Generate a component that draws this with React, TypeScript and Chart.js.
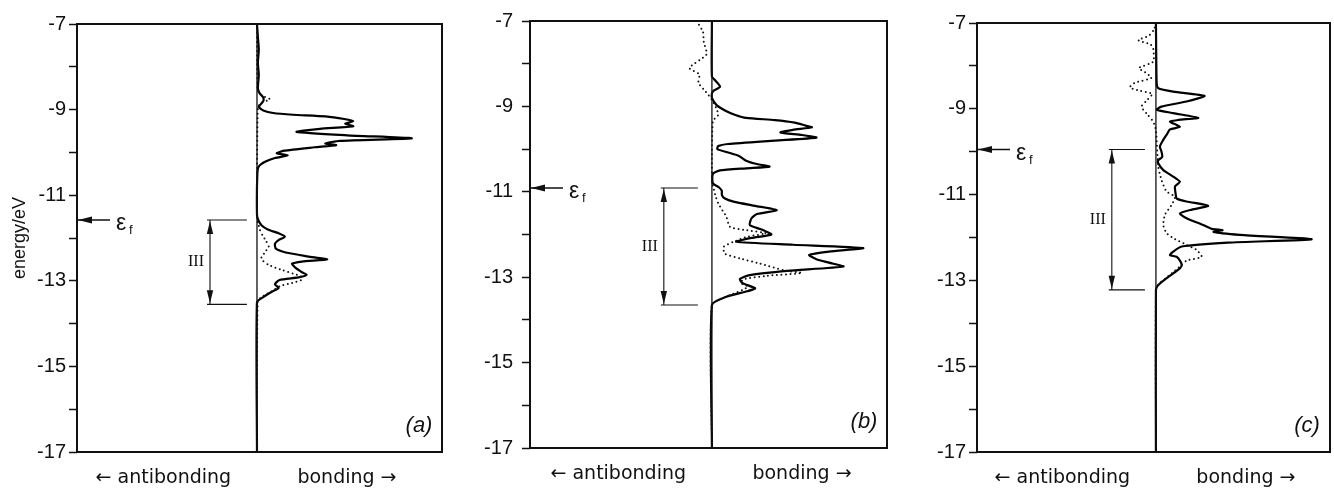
import React, { useEffect, useRef } from 'react';
import { Chart, registerables } from 'chart.js';

Chart.register(...registerables);

// ---------- data ----------
const energyMin = -17;
const energyMax = -7;
const centerLineE = [-7, -17];
const xTickValues = [-5.2, 5];
const xTickLabels = ['← antibonding', 'bonding →'];
const panelLabels = ['(a)', '(b)', '(c)'];
const fermiLevels = [-11.58, -10.91, -9.95];
const bandIIIBottom = [-13.55, -13.65, -13.22];
const bandIIILabel = 'III';

// panel (a)
const aSolidE = [-7.0, -7.3, -7.6, -7.9, -8.2, -8.5, -8.62, -8.72, -8.8, -8.88, -8.94, -9.02, -9.08, -9.12, -9.16, -9.22, -9.27, -9.33, -9.39, -9.45, -9.52, -9.6, -9.67, -9.73, -9.79, -9.83, -9.88, -9.96, -10.02, -10.07, -10.13, -10.22, -10.33, -10.5, -11.45, -11.58, -11.7, -11.8, -11.89, -11.97, -12.05, -12.13, -12.25, -12.34, -12.43, -12.5, -12.55, -12.6, -12.68, -12.8, -12.86, -12.92, -12.98, -13.08, -13.17, -13.25, -13.38, -13.5, -17];
const aSolidX = [0, 0.05, 0.1, 0.05, 0.1, 0.05, 0.15, 0.35, 0.35, 0.2, 0.1, 0.35, 0.9, 2.0, 3.8, 4.85, 5.35, 4.9, 5.35, 3.5, 2.2, 5.0, 8.6, 4.6, 3.8, 4.4, 3.2, 1.5, 1.1, 1.7, 1.0, 0.45, 0.1, 0.02, 0, 0.07, 0.25, 0.6, 1.2, 1.55, 1.2, 1.0, 1.05, 1.6, 2.8, 3.9, 2.5, 1.95, 2.1, 2.5, 2.75, 2.3, 1.25, 1.0, 1.2, 0.85, 0.35, 0, 0];
const aDotE = [-7.0, -8.55, -8.68, -8.76, -8.84, -8.95, -11.55, -11.66, -11.8, -11.93, -12.07, -12.2, -12.33, -12.45, -12.52, -12.63, -12.75, -12.89, -12.97, -13.05, -13.12, -13.25, -13.38, -13.48, -17];
const aDotX = [0, 0.05, 0.3, 0.72, 0.25, 0.05, 0, 0.07, 0.15, 0.3, 0.5, 0.65, 0.45, 0.25, 0.3, 0.65, 1.4, 2.4, 2.5, 1.95, 1.3, 0.8, 0.26, 0.04, 0];

// panel (b)
const bSolidE = [-7.0, -8.3, -8.4, -8.54, -8.63, -8.7, -8.8, -8.97, -9.1, -9.2, -9.27, -9.32, -9.38, -9.45, -9.49, -9.55, -9.61, -9.67, -9.73, -9.8, -9.88, -9.93, -10.0, -10.08, -10.16, -10.27, -10.35, -10.41, -10.45, -10.5, -10.58, -10.8, -10.9, -10.98, -11.07, -11.15, -11.23, -11.33, -11.43, -11.52, -11.62, -11.78, -11.89, -12.0, -12.08, -12.17, -12.24, -12.32, -12.4, -12.48, -12.58, -12.66, -12.75, -12.85, -12.95, -13.04, -13.14, -13.26, -13.33, -13.46, -13.65, -17];
const bSolidX = [0, 0, 0.2, 0.45, 0.1, 0, 0, 0.26, 0.75, 1.3, 1.9, 3.5, 4.6, 5.2, 5.55, 4.5, 3.8, 5.0, 5.8, 3.5, 0.9, 0.35, 0.3, 0.9, 1.5, 1.9, 2.5, 3.2, 1.9, 0.45, 0.05, 0.05, 0.4, 0.55, 0.55, 0.7, 1.2, 2.4, 3.6, 2.5, 2.2, 2.1, 2.8, 3.3, 2.2, 1.35, 4.5, 8.4, 6.5, 5.4, 5.8, 6.5, 7.3, 4.2, 2.1, 1.55, 1.7, 2.4, 1.95, 0.8, 0, 0];
const bDotE = [-7.0, -7.25, -7.5, -7.78, -8.1, -8.25, -8.45, -8.65, -8.85, -9.05, -9.2, -9.35, -10.8, -10.88, -11.1, -11.27, -11.45, -11.58, -11.82, -11.89, -11.97, -12.05, -12.17, -12.29, -12.45, -12.56, -12.68, -12.84, -12.9, -12.97, -13.05, -13.14, -13.22, -13.3, -13.42, -13.65, -17];
const bDotX = [-0.85, -0.5, -0.45, -0.3, -1.25, -0.7, -0.75, -0.35, 0, 0.25, 0.35, 0.05, 0, 0.07, 0.2, 0.35, 0.6, 0.8, 1.0, 1.75, 3.0, 2.0, 1.2, 0.65, 0.72, 1.55, 2.65, 4.0, 5.0, 3.0, 1.75, 1.6, 2.0, 1.7, 1.0, 0, 0];

// panel (c)
const cSolidE = [-7.0, -8.4, -8.52, -8.6, -8.7, -8.83, -8.95, -9.02, -9.1, -9.21, -9.26, -9.3, -9.42, -9.48, -9.6, -9.73, -9.88, -10.0, -10.12, -10.2, -10.27, -10.43, -10.58, -10.7, -10.81, -11.0, -11.09, -11.16, -11.26, -11.35, -11.44, -11.55, -11.71, -11.8, -11.83, -11.87, -11.94, -12.04, -12.12, -12.21, -12.33, -12.41, -12.45, -12.55, -12.64, -12.72, -12.92, -13.11, -13.23, -17];
const cSolidX = [0, 0.04, 0.13, 0.96, 2.7, 1.7, 0.3, 0.05, 0.96, 2.35, 1.24, 0.78, 1.33, 0.78, 0.6, 0.4, 0.22, 0.31, 0.35, 0.13, 0.13, 0.41, 0.96, 1.33, 1.06, 1.1, 1.15, 1.7, 2.9, 2.0, 1.33, 1.7, 2.63, 3.1, 3.7, 3.2, 4.67, 8.65, 4.0, 1.43, 0.96, 0.78, 1.15, 1.35, 1.43, 1.33, 0.69, 0.13, 0, 0];
const cDotE = [-7.0, -7.15, -7.3, -7.4, -7.5, -7.6, -7.9, -8.05, -8.15, -8.28, -8.4, -8.5, -8.58, -8.65, -8.8, -8.95, -9.12, -9.3, -9.5, -10.35, -10.66, -10.93, -11.05, -11.24, -11.47, -11.71, -11.9, -12.04, -12.17, -12.29, -12.45, -12.54, -12.64, -12.84, -13.07, -13.23, -17];
const cDotX = [0, -0.1, -0.4, -0.98, -0.3, -0.15, -0.15, -0.95, -0.6, -0.25, -1.2, -1.45, -0.9, -0.2, -0.5, -0.8, -0.5, -0.15, 0, 0.13, 0.31, 0.59, 1.06, 0.87, 0.5, 0.41, 0.59, 1.06, 1.7, 2.26, 2.54, 1.7, 1.43, 0.87, 0.2, 0, 0];

const solidE = [aSolidE, bSolidE, cSolidE];
const solidX = [aSolidX, bSolidX, cSolidX];
const dotE = [aDotE, bDotE, cDotE];
const dotX = [aDotX, bDotX, cDotX];

// bracket x positions (in DOS units): vertical line, right end
const bracketVX = [-2.61, -2.67, -2.45];
const bracketRX = [-0.56, -0.78, -0.61];

// ---------- layout / style ----------
const panelLayouts = [
  { left: 0, width: 470, yAxisW: 77, padTop: 24, padRight: 28, xAxisH: 36, xMin: -10, xMax: 10.28, tickPad: 3 },
  { left: 460, width: 450, yAxisW: 70, padTop: 21, padRight: 23, xAxisH: 40, xMin: -10.1, xMax: 9.72, tickPad: 9 },
  { left: 905, width: 429, yAxisW: 72, padTop: 23, padRight: 4, xAxisH: 36, xMin: -9.94, xMax: 9.67, tickPad: 3 },
];
const SANS = '"Liberation Sans", Arial, sans-serif';
const XLAB = '"DejaVu Sans", sans-serif';
const SERIF = '"Liberation Serif", "Times New Roman", serif';
const INK = '#111';

function zip(es: number[], xs: number[]) {
  return es.map((e, i) => ({ x: xs[i], y: e }));
}

function makeAnnotPlugin(idx: number) {
  return {
    id: 'annot' + idx,
    afterDatasetsDraw(chart: any) {
      const { ctx, chartArea } = chart;
      const sx = chart.scales.x;
      const sy = chart.scales.y;
      const { left, top, right, bottom } = chartArea;
      ctx.save();
      ctx.strokeStyle = INK;
      ctx.fillStyle = INK;
      // frame
      ctx.lineWidth = 2;
      ctx.strokeRect(left, top, right - left, bottom - top);

      // Fermi level arrow
      const yf = sy.getPixelForValue(fermiLevels[idx]);
      ctx.lineWidth = 1.4;
      ctx.beginPath();
      ctx.moveTo(left, yf);
      ctx.lineTo(left + 33, yf);
      ctx.stroke();
      ctx.beginPath();
      ctx.moveTo(left + 1, yf);
      ctx.lineTo(left + 15, yf - 3.5);
      ctx.lineTo(left + 15, yf + 3.5);
      ctx.closePath();
      ctx.fill();
      ctx.textAlign = 'left';
      ctx.textBaseline = 'alphabetic';
      ctx.font = '23px ' + SANS;
      ctx.fillText('ε', left + 39, yf + 10);
      ctx.font = '13px ' + SANS;
      ctx.fillText('f', left + 52, yf + 14);

      // band III bracket
      const xv = sx.getPixelForValue(bracketVX[idx]);
      const xr = sx.getPixelForValue(bracketRX[idx]);
      const xl = xv - 3;
      const yt = yf;
      const yb = sy.getPixelForValue(bandIIIBottom[idx]);
      ctx.lineWidth = 1.1;
      ctx.beginPath();
      ctx.moveTo(xl, yt); ctx.lineTo(xr, yt);
      ctx.moveTo(xl, yb); ctx.lineTo(xr, yb);
      ctx.moveTo(xv, yt); ctx.lineTo(xv, yb);
      ctx.stroke();
      ctx.beginPath();
      ctx.moveTo(xv, yt + 1); ctx.lineTo(xv - 3.2, yt + 14); ctx.lineTo(xv + 3.2, yt + 14); ctx.closePath();
      ctx.moveTo(xv, yb - 1); ctx.lineTo(xv - 3.2, yb - 14); ctx.lineTo(xv + 3.2, yb - 14); ctx.closePath();
      ctx.fill();
      ctx.font = '16px ' + SERIF;
      ctx.textAlign = 'center';
      ctx.textBaseline = 'middle';
      ctx.fillText(bandIIILabel, xv - 14, (yt + yb) / 2);

      // panel letter
      ctx.font = 'italic 22px ' + SANS;
      ctx.fillText(panelLabels[idx], right - 23, bottom - 26);
      ctx.restore();
    },
  };
}

function makeChart(canvas: HTMLCanvasElement, idx: number) {
  const p = panelLayouts[idx];
  return new Chart(canvas, {
    type: 'scatter',
    data: {
      datasets: [
        {
          data: centerLineE.map((e) => ({ x: 0, y: e })),
          showLine: true,
          borderColor: INK,
          borderWidth: 1.3,
          pointRadius: 0,
        },
        {
          data: zip(dotE[idx], dotX[idx]),
          showLine: true,
          borderColor: INK,
          borderWidth: 2,
          borderDash: [0, 4.5],
          borderCapStyle: 'round',
          pointRadius: 0,
          tension: 0.2,
        },
        {
          data: zip(solidE[idx], solidX[idx]),
          showLine: true,
          borderColor: '#000',
          borderWidth: 2.2,
          pointRadius: 0,
          tension: 0.2,
        },
      ],
    } as any,
    options: {
      animation: false,
      responsive: false,
      maintainAspectRatio: false,
      events: [],
      layout: { padding: { top: p.padTop, right: p.padRight, left: 0, bottom: 0 } },
      plugins: { legend: { display: false }, tooltip: { enabled: false } },
      scales: {
        x: {
          type: 'linear',
          min: p.xMin,
          max: p.xMax,
          grid: { display: false },
          border: { display: false },
          afterBuildTicks: (ax: any) => {
            ax.ticks = xTickValues.map((v) => ({ value: v }));
          },
          afterFit: (ax: any) => {
            ax.height = p.xAxisH;
          },
          ticks: {
            autoSkip: false,
            maxRotation: 0,
            padding: 7,
            color: INK,
            font: { size: 19, family: XLAB },
            callback: (_v: any, i: number) => xTickLabels[i],
          },
        },
        y: {
          type: 'linear',
          min: energyMin,
          max: energyMax,
          border: { display: false },
          grid: { drawOnChartArea: false, tickLength: 8, tickColor: INK, tickWidth: 1.5 },
          afterFit: (ax: any) => {
            ax.width = p.yAxisW;
          },
          ticks: {
            stepSize: 1,
            autoSkip: false,
            padding: p.tickPad,
            color: INK,
            font: { size: 20, family: SANS },
            callback: (v: any) => (Math.abs(Math.round(v)) % 2 === 1 ? String(v) : ''),
          },
          title: {
            display: idx === 0,
            text: 'energy/eV',
            color: INK,
            font: { size: 18, family: SANS },
            padding: { top: 9, bottom: 0 },
          },
        },
      },
    } as any,
    plugins: [makeAnnotPlugin(idx)],
  });
}

export default function App() {
  const r0 = useRef<HTMLCanvasElement>(null);
  const r1 = useRef<HTMLCanvasElement>(null);
  const r2 = useRef<HTMLCanvasElement>(null);

  useEffect(() => {
    const refs = [r0, r1, r2];
    const charts = refs.map((r, i) => makeChart(r.current as HTMLCanvasElement, i));
    return () => charts.forEach((c) => c.destroy());
  }, []);

  const refs = [r0, r1, r2];
  return (
    <div style={{ position: 'absolute', left: 0, top: 0, width: 1334, height: 488, background: '#fff', overflow: 'hidden' }}>
      {panelLayouts.map((p, i) => (
        <canvas
          key={i}
          ref={refs[i]}
          width={p.width}
          height={488}
          style={{ position: 'absolute', left: p.left, top: 0, width: p.width, height: 488 }}
        />
      ))}
    </div>
  );
}
